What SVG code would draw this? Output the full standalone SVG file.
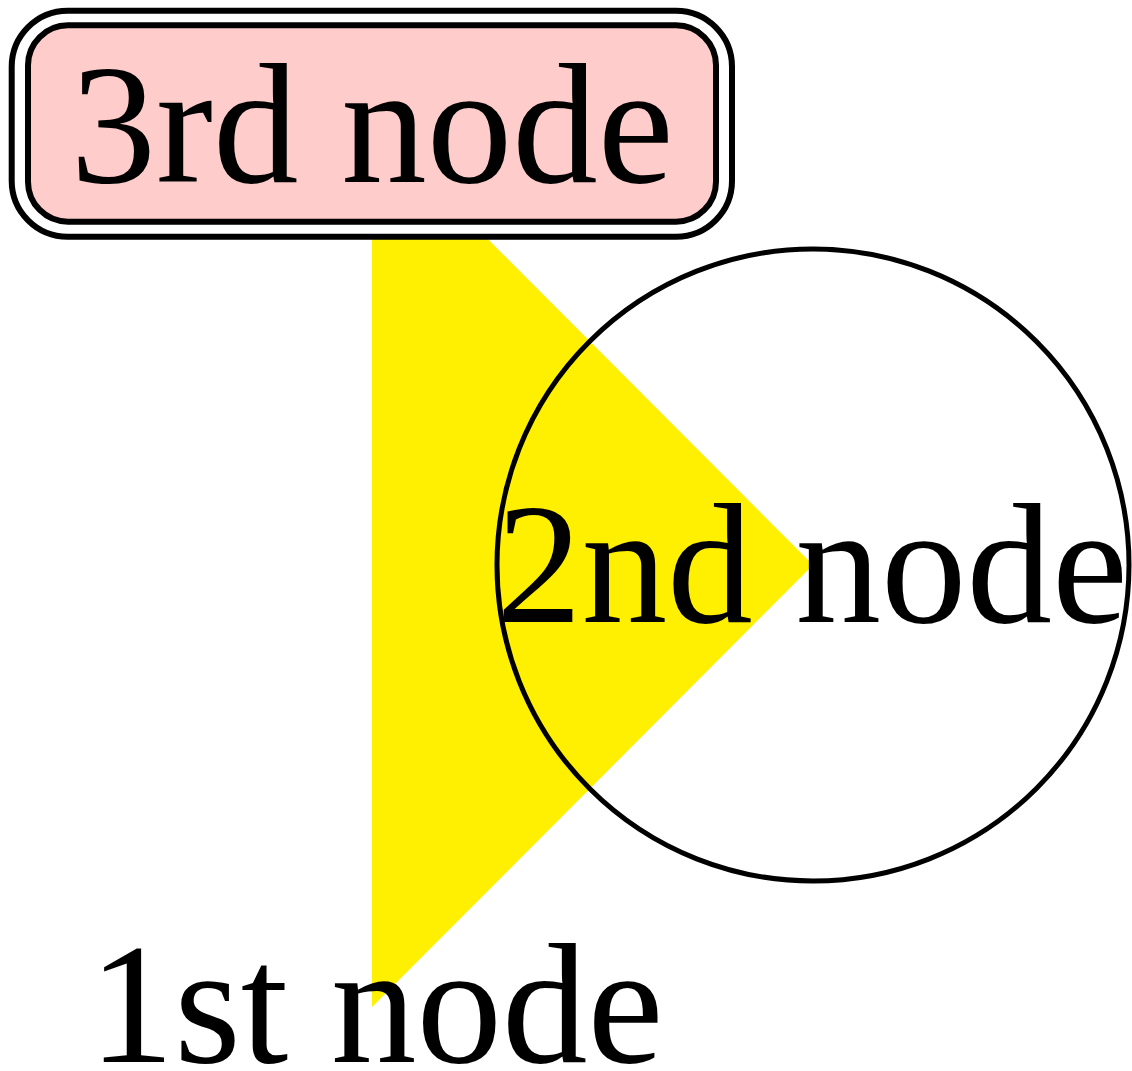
<svg xmlns="http://www.w3.org/2000/svg" width="1132" height="1071" viewBox="0 0 1132 1071">
<style>
.lbl{font-family:'Liberation Serif',serif;font-size:171px;fill:#000;text-anchor:middle}
</style>
<rect width="1132" height="1071" fill="#fff"/>
<g id="connectors">
<polygon points="372,123 813,565 372,1007" fill="#FFEF00"/>
</g>
<g id="node2">
<circle cx="813" cy="565" r="316" fill="none" stroke="#000" stroke-width="5"/>
<text class="lbl" x="812" y="622">2nd node</text>
</g>
<g id="node3">
<rect x="11.7" y="10.7" width="720.3" height="226" rx="56" ry="56" fill="#fff" stroke="#000" stroke-width="6"/>
<rect x="28" y="25.3" width="688" height="196.4" rx="40" ry="40" fill="#FFCCCC" stroke="#000" stroke-width="6"/>
<text class="lbl" x="372" y="182">3rd node</text>
</g>
<g id="node1">
<text class="lbl" x="376" y="1062">1st node</text>
</g>
</svg>
